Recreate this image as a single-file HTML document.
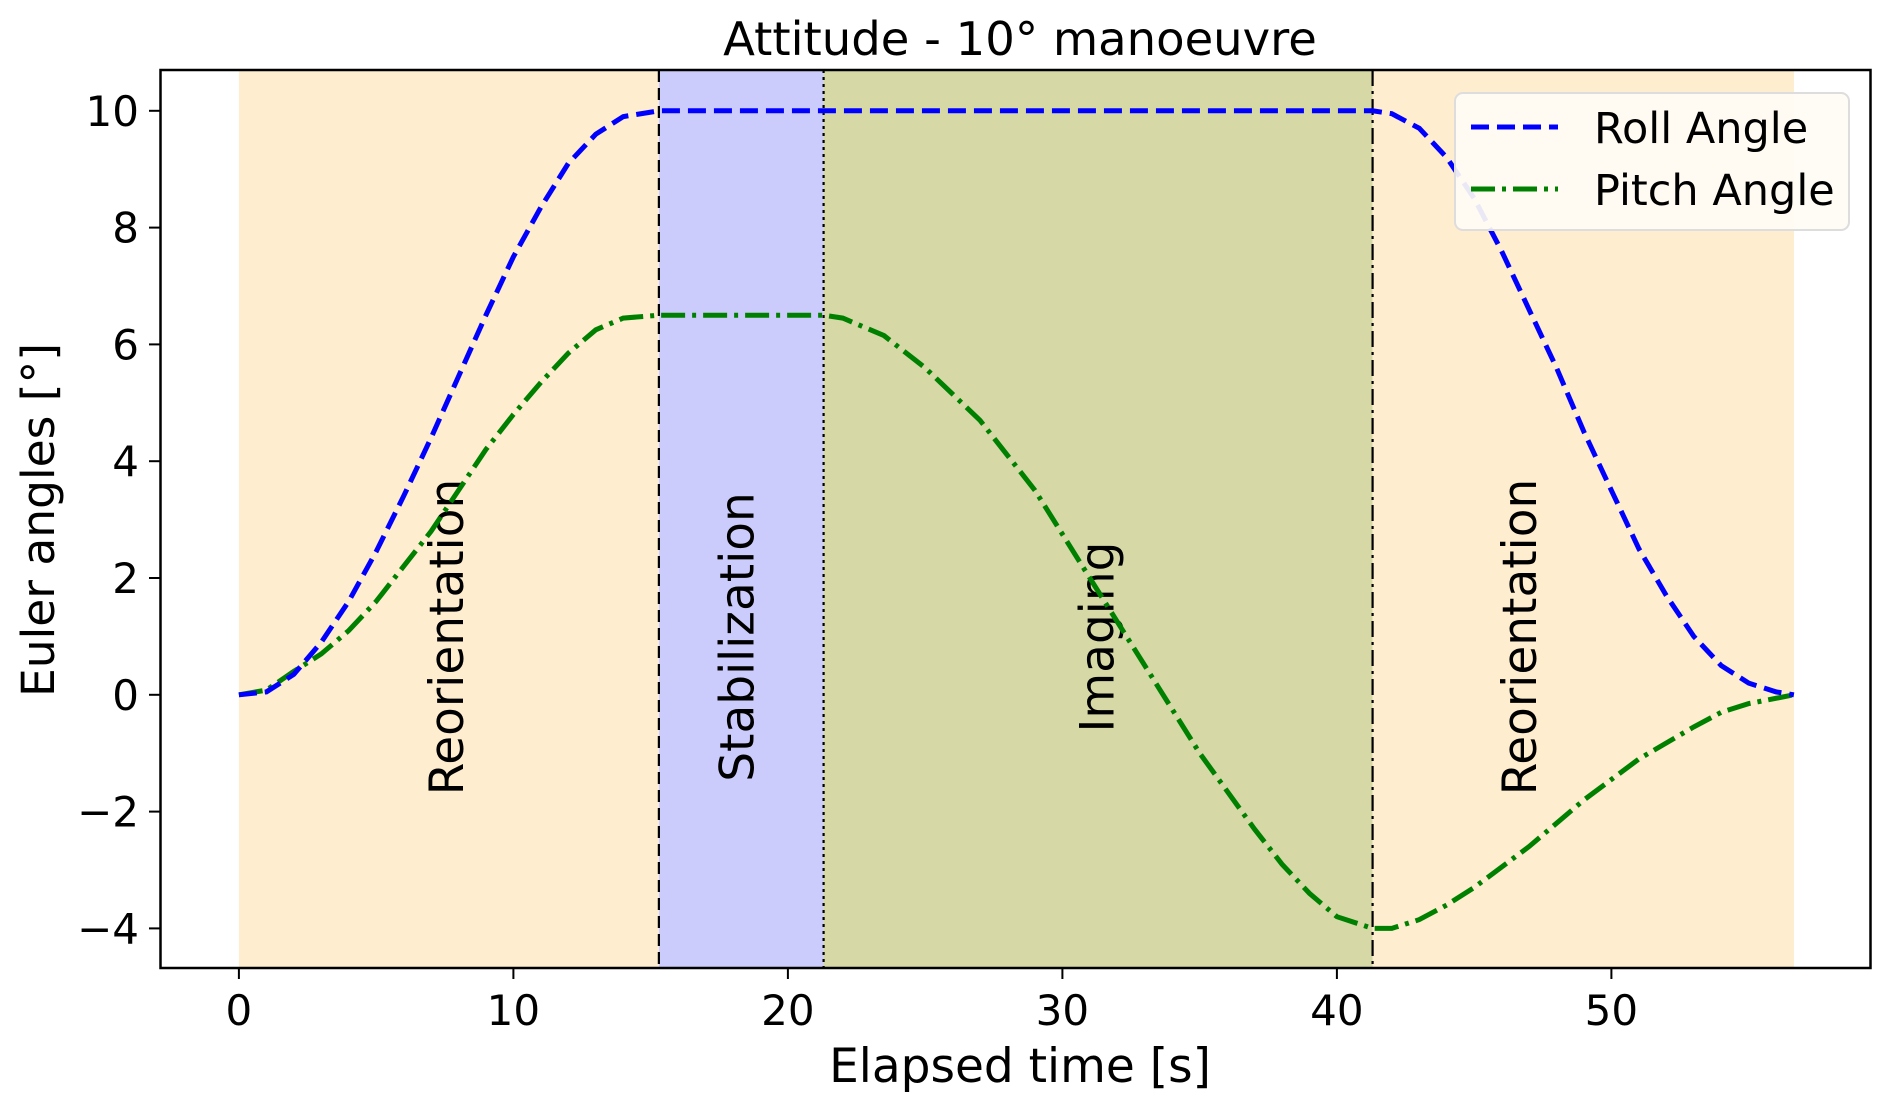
<!DOCTYPE html>
<html><head><meta charset="utf-8">
<style>
html,body{margin:0;padding:0;background:#fff;}
svg{display:block;font-family:"DejaVu Sans","Liberation Sans",sans-serif;}
</style></head>
<body>
<svg id="chart" width="1892" height="1109" viewBox="0 0 1892 1109" xmlns="http://www.w3.org/2000/svg">
<g id="bg"></g>
<g id="vlines"></g>
<g id="labels"></g>
<g id="series"></g>
<rect x="160.5" y="70" width="1710" height="898" fill="none" stroke="#000" stroke-width="2.5"/>
<g id="xticks"></g>
<g id="yticks"></g>
<text x="1020" y="55" font-size="46.5" text-anchor="middle">Attitude - 10° manoeuvre</text>
<text x="1020" y="1082" font-size="47" text-anchor="middle">Elapsed time [s]</text>
<text transform="translate(54,520) rotate(-90)" font-size="45.5" text-anchor="middle">Euler angles [°]</text>
<g>
<rect x="1455" y="93" width="394" height="137" rx="8" fill="#fffcf5" fill-opacity="0.92" stroke="#ddd" stroke-width="2"/>
<line x1="1471" y1="127" x2="1558" y2="127" stroke="#0000ff" stroke-width="5" stroke-dasharray="18,8"/>
<text x="1594" y="143" font-size="43">Roll Angle</text>
<line x1="1471" y1="189" x2="1558" y2="189" stroke="#008000" stroke-width="5" stroke-dasharray="24,7,4,7"/>
<text x="1594" y="205" font-size="43">Pitch Angle</text>
</g>
</svg>
<script>
const rollT = [0,1,2,3,4,5,6,7,8,9,10,11,12,13,14,15.3,41.3,42,43,44,45,46,47,48,49,50,51,52,53,54,55,56,56.65];
const rollV = [0,0.05,0.35,0.9,1.6,2.45,3.4,4.4,5.45,6.5,7.5,8.35,9.1,9.6,9.9,10,10,9.95,9.7,9.2,8.5,7.6,6.6,5.6,4.5,3.5,2.5,1.7,1.0,0.5,0.2,0.05,0];
const pitchT = [0,1,2,3,4,5,6,7,8,9,10,11,12,13,14,15.3,21.3,22,23.5,25,27,29,31,33,35,37,38,39,40,41.3,42,43,44,45,47,49,51,53,54,55,56.65];
const pitchV = [0,0.08,0.4,0.7,1.1,1.6,2.2,2.8,3.5,4.2,4.8,5.35,5.85,6.25,6.45,6.5,6.5,6.45,6.15,5.6,4.7,3.5,2.0,0.5,-1.0,-2.3,-2.9,-3.4,-3.8,-4.0,-4.0,-3.85,-3.6,-3.3,-2.6,-1.8,-1.1,-0.55,-0.3,-0.15,0];
const phaseStart = [0,15.3,21.3,41.3];
const phaseEnd = [15.3,21.3,41.3,56.65];
const phaseNames = ["Reorientation","Stabilization","Imaging","Reorientation"];
const phaseLabelT = [7.7,18.3,31.4,46.8];
const phaseColors = ["#feedce","#ccccfc","#d6d9a6","#feedce"];
const xTicks = [0,10,20,30,40,50];
const yTicks = [-4,-2,0,2,4,6,8,10];

const NS="http://www.w3.org/2000/svg";
const X = t => 238.9 + t*27.45;
const Y = v => 694.8 - v*58.4;
function mk(tag, parent, attrs){const e=document.createElementNS(NS,tag);for(const k in attrs)e.setAttribute(k,attrs[k]);parent.appendChild(e);return e;}
const bg=document.getElementById('bg'), vl=document.getElementById('vlines'), lb=document.getElementById('labels'), se=document.getElementById('series');
const dashes=["12,6","3,4","16,5,3,5"];
for(let i=0;i<phaseStart.length;i++){
  const r=mk('rect',bg,{x:X(phaseStart[i]),y:70,width:X(phaseEnd[i])-X(phaseStart[i]),height:898,fill:phaseColors[i]});
  
  
  const cx=X(phaseLabelT[i]);
  const tx=mk('text',lb,{transform:`translate(${cx},637) rotate(-90)`,'font-size':47,'text-anchor':'middle','dominant-baseline':'middle'});
  tx.textContent=phaseNames[i];
  
  
  if(i>0){
    const l=mk('line',vl,{x1:X(phaseStart[i]),x2:X(phaseStart[i]),y1:70,y2:968,stroke:'#000','stroke-width':2.2,'stroke-dasharray':dashes[i-1]});
    
    
  }
}
function path(T,V){return T.map((t,i)=>(i?'L':'M')+X(t).toFixed(1)+','+Y(V[i]).toFixed(1)).join(' ');}
const pp=mk('path',se,{d:path(pitchT,pitchV),fill:'none',stroke:'#008000','stroke-width':5,'stroke-dasharray':'24,7,4,7'});


const rp=mk('path',se,{d:path(rollT,rollV),fill:'none',stroke:'#0000ff','stroke-width':5,'stroke-dasharray':'18,8'});


const xg=document.getElementById('xticks'), yg=document.getElementById('yticks');
xTicks.forEach(t=>{
  const l=mk('line',xg,{x1:X(t),x2:X(t),y1:968,y2:979,stroke:'#000','stroke-width':2});
  
  
  const tx=mk('text',xg,{x:X(t),y:1025,'font-size':42,'text-anchor':'middle'});
  tx.textContent=t;
  
  
});
yTicks.forEach(v=>{
  const l=mk('line',yg,{x1:149,x2:160.5,y1:Y(v),y2:Y(v),stroke:'#000','stroke-width':2});
  
  
  const tx=mk('text',yg,{x:139,y:Y(v)+15,'font-size':42,'text-anchor':'end'});
  tx.textContent=v<0?'\u2212'+(-v):v;
  
  
});
</script>
</body></html>
